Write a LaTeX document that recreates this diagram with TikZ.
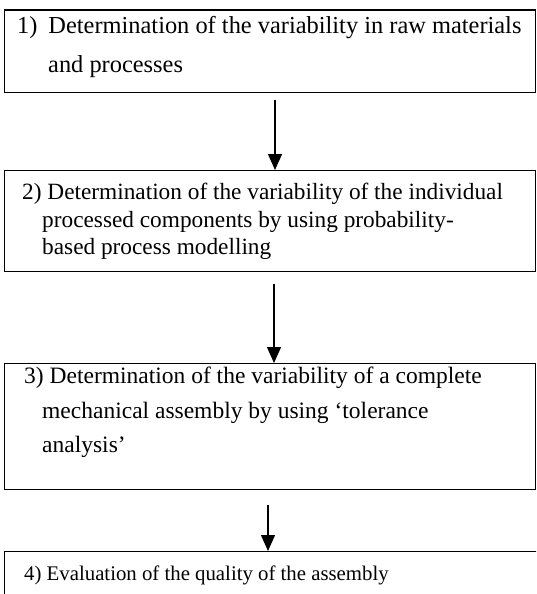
\documentclass[tikz,border=0pt]{standalone}
\usepackage{fontspec}
\setmainfont{Liberation Serif}
\usetikzlibrary{arrows.meta}
\begin{document}
\begin{tikzpicture}[x=1pt,y=-1pt,
  stagebox/.style={draw=black, line width=1.4pt, anchor=north west, inner sep=0pt},
  txt/.style={anchor=base west, inner sep=0pt},
  flow/.style={line width=1.3pt, -{Triangle[length=16pt,width=14pt]}},
  fa/.style={font=\fontsize{24.4}{24}\selectfont},
  fb/.style={font=\fontsize{23.3}{24}\selectfont},
  fc/.style={font=\fontsize{23.5}{24}\selectfont},
  fd/.style={font=\fontsize{20.8}{24}\selectfont}]
\useasboundingbox (0,0) rectangle (536,594);
\clip (0,0) rectangle (536,594);

% stage boxes
\node[stagebox, minimum width=531pt, minimum height=82pt] (b1) at (4,9.5) {};
\node[stagebox, minimum width=531pt, minimum height=101pt] (b2) at (4,170) {};
\node[stagebox, minimum width=531pt, minimum height=126pt] (b3) at (4,363) {};
\node[stagebox, minimum width=540pt, minimum height=80pt] (b4) at (4,551) {};

% box texts
\node[txt, fa] (t1a) at (17,34) {1)\hspace{0.45em}Determination of the variability in raw materials};
\node[txt, fa] (t1b) at (48,73) {and processes};

\node[txt, fb] (t2a) at (22,199) {2) Determination of the variability of the individual};
\node[txt, fb] (t2b) at (42,227) {processed components by using probability-};
\node[txt, fb] (t2c) at (42,254) {based process modelling};

\node[txt, fc] (t3a) at (24,383) {3) Determination of the variability of a complete};
\node[txt, fc] (t3b) at (42,418) {mechanical assembly by using ‘tolerance};
\node[txt, fc] (t3c) at (42,452) {analysis’};

\node[txt, fd] (t4a) at (24,580) {4) Evaluation of the quality of the assembly};

% connectors
\coordinate (s1) at (275,100);
\coordinate (s2) at (274,284);
\coordinate (s3) at (268,505);
\draw[flow] (s1) -- (s1 |- b2.north);
\draw[flow] (s2) -- (s2 |- b3.north);
\draw[flow] (s3) -- (s3 |- b4.north);
\end{tikzpicture}
\end{document}
